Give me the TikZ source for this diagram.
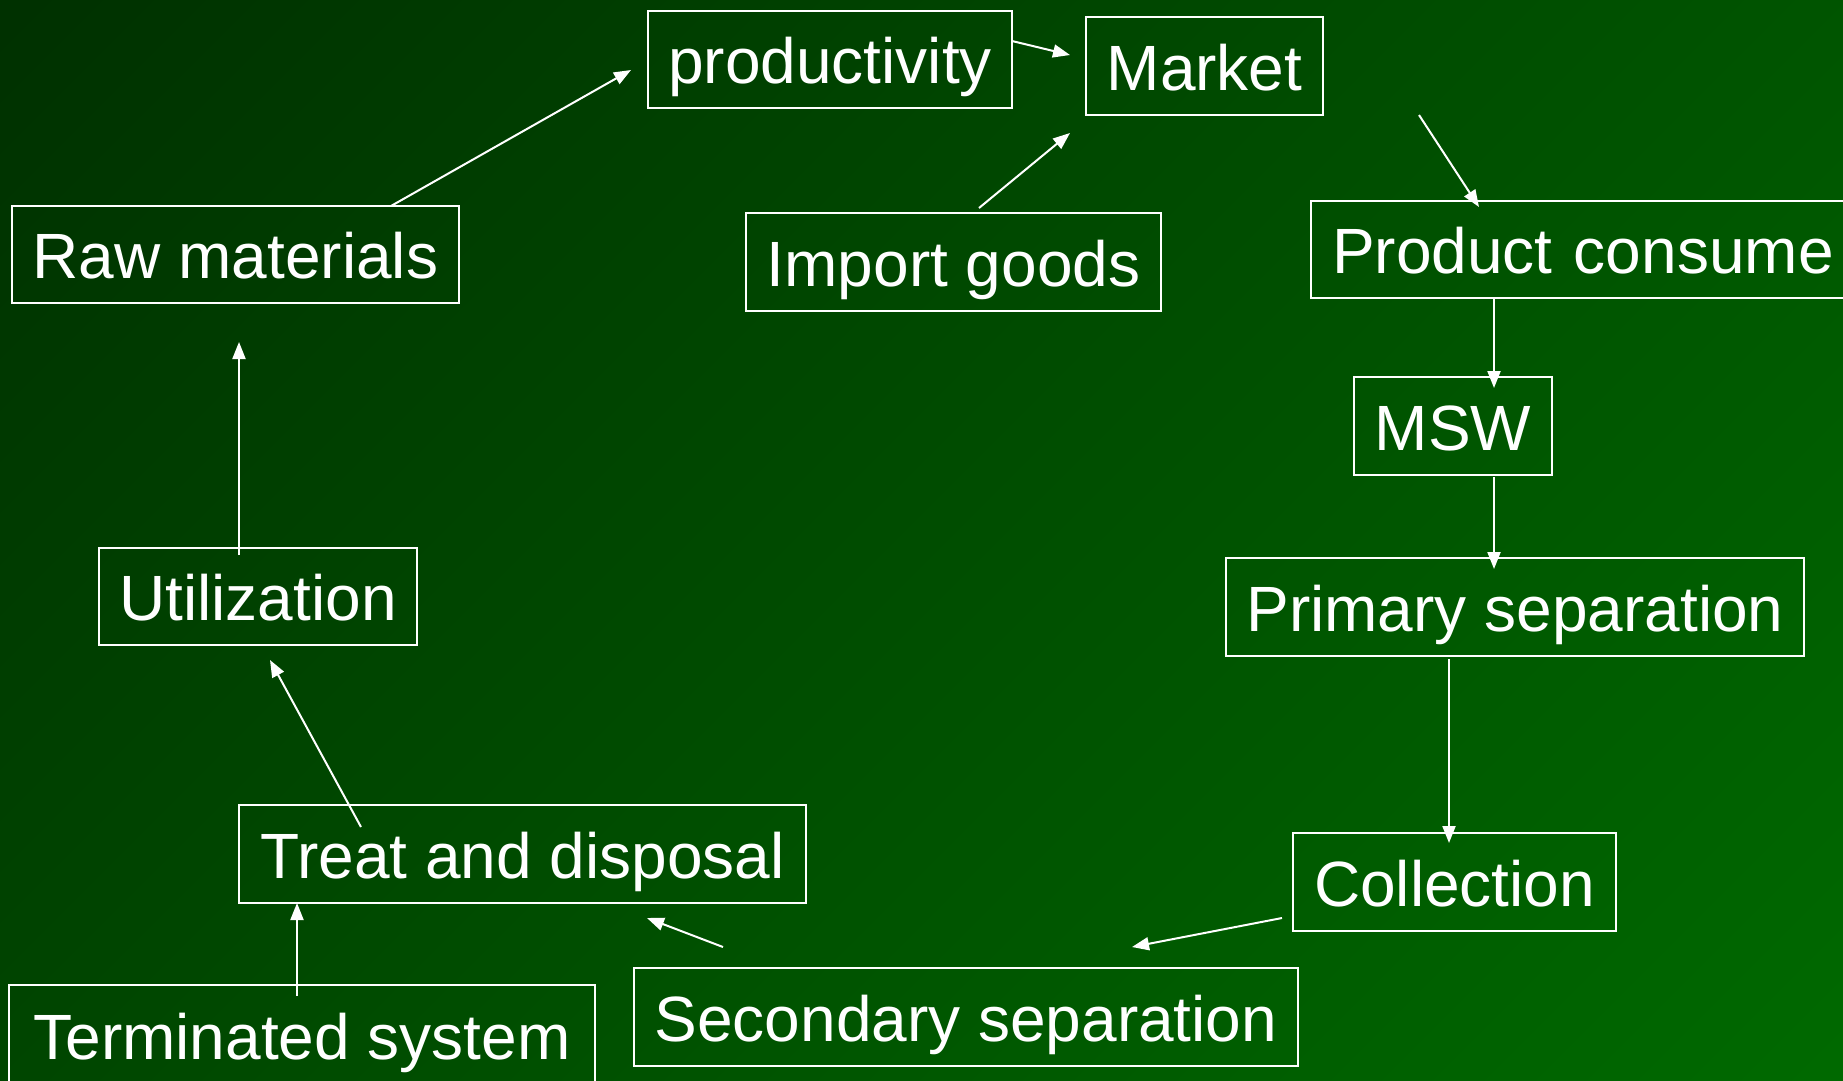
\documentclass[tikz,border=0pt]{standalone}
\usepackage{fontspec}
\setmainfont{Liberation Sans}
\usetikzlibrary{arrows.meta}
\definecolor{bgA}{RGB}{0,46,0}
\definecolor{bgB}{RGB}{0,108,0}
\tikzset{
  box/.style={draw=white, line width=2.2pt, text=white, inner sep=0pt,
    font=\fontsize{64}{76}\selectfont, text height=48pt, text depth=0pt},
  arr/.style={draw=white, line width=2pt, -{Triangle[length=17pt,width=13pt]}},
}
\begin{document}
\begin{tikzpicture}[x=1pt,y=-1pt]
\useasboundingbox (0,0) rectangle (1843,1080);
\clip (0,0) rectangle (1843,1080);
\shade[top color=bgA, bottom color=bgB, shading angle=45] (-400,-400) rectangle (2243,1480);
% boxes: center x, center y, width, height
\node[box, minimum width=364, minimum height=97] (prod) at (830,59.5) {productivity};
\node[box, minimum width=237, minimum height=98] (market) at (1204.5,66) {Market};
\node[box, minimum width=447, minimum height=97] (raw) at (235.5,254.5) {Raw materials};
\node[box, minimum width=415, minimum height=98] (import) at (953.5,262) {Import goods};
\node[box, anchor=north west, minimum height=97, text width=580pt, inner xsep=21pt, align=left] (consume) at (1310,200) {Product consume};
\node[box, minimum width=198, minimum height=98] (msw) at (1453,426) {MSW};
\node[box, minimum width=578, minimum height=98] (primary) at (1515,607) {Primary separation};
\node[box, minimum width=318, minimum height=97] (util) at (258,596.5) {Utilization};
\node[box, minimum width=323, minimum height=98] (collection) at (1454.5,882) {Collection};
\node[box, minimum width=567, minimum height=98] (treat) at (522.5,854) {Treat and disposal};
\node[box, minimum width=664, minimum height=98] (secondary) at (966,1017) {Secondary separation};
\node[box, anchor=north, minimum width=586, minimum height=140, text height=44pt, text depth=36pt] (terminated) at (302,984) {Terminated system};
% connector end points
\coordinate (a1s) at (391,206);  \coordinate (a1e) at (631,70);
\coordinate (a2s) at (1012,41);  \coordinate (a2e) at (1070,55);
\coordinate (a3s) at (979,208);  \coordinate (a3e) at (1070,133);
\coordinate (a4s) at (1419,115); \coordinate (a4e) at (1479,207);
\coordinate (a5s) at (1494,297); \coordinate (a5e) at (1494,388);
\coordinate (a6s) at (1494,477); \coordinate (a6e) at (1494,569);
\coordinate (a7s) at (1449,659); \coordinate (a7e) at (1449,843);
\coordinate (a8s) at (1282,918); \coordinate (a8e) at (1132,947);
\coordinate (a9s) at (723,947);  \coordinate (a9e) at (647,918);
\coordinate (a10s) at (297,996); \coordinate (a10e) at (297,903);
\coordinate (a11s) at (361,827); \coordinate (a11e) at (270,660);
\coordinate (a12s) at (239,555); \coordinate (a12e) at (239,342);
\draw[arr] (a1s) -- (a1e);
\draw[arr] (a2s) -- (a2e);
\draw[arr] (a3s) -- (a3e);
\draw[arr] (a4s) -- (a4e);
\draw[arr] (a5s) -- (a5e);
\draw[arr] (a6s) -- (a6e);
\draw[arr] (a7s) -- (a7e);
\draw[arr] (a8s) -- (a8e);
\draw[arr] (a9s) -- (a9e);
\draw[arr] (a10s) -- (a10e);
\draw[arr] (a11s) -- (a11e);
\draw[arr] (a12s) -- (a12e);
\end{tikzpicture}
\end{document}
